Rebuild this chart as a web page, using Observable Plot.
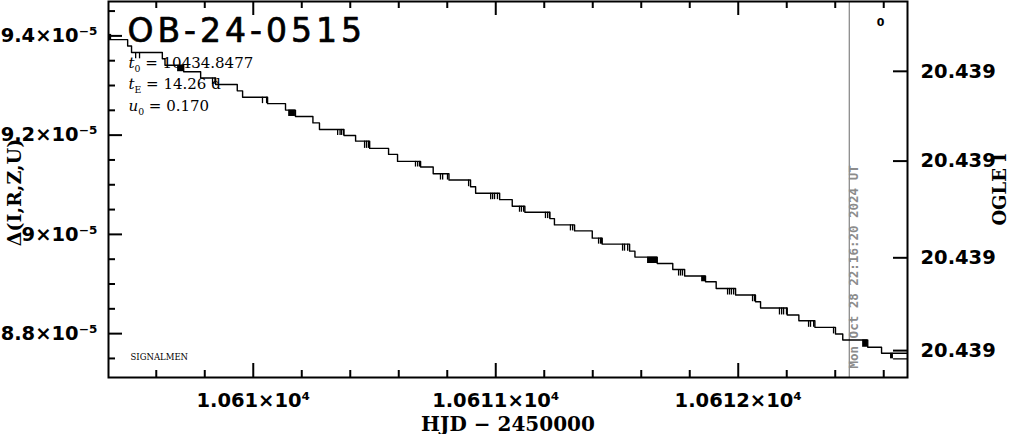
<!DOCTYPE html>
<html><head><meta charset="utf-8">
<script src="https://cdn.jsdelivr.net/npm/d3@7"></script>
<script src="https://cdn.jsdelivr.net/npm/@observablehq/plot@0.6"></script>
<style>body{margin:0;background:#fff;} svg{display:block}</style>
</head><body><div id="chart"></div>
<script>
// ---- text ----
const title = "OB-24-0515";
const paramSymbols = ["t", "t", "u"];
const paramSubscripts = ["0", "E", "0"];
const paramValues = ["10434.8477", "14.26 d", "0.170"];
const xLabel = "HJD − 2450000";
const yLabel = "Δ(I,R,Z,U)";
const y2Label = "OGLE I";
const credit = "SIGNALMEN";
const cornerMark = "0";
const nowHJD = 10612.458;
const nowLabel = "Mon Oct 28 22:16:20 2024 UT";

// ---- scales / ticks ----
const xDomain = [10609.403, 10612.698];
const yDomain = [8.7116, 9.4693]; // Δ in units of 1e-5
const xMajorTicks = [10610, 10611, 10612];
const xTickLabels = ["1.061×10⁴", "1.0611×10⁴", "1.0612×10⁴"];
const xMinorTicks = [10609.6, 10609.8, 10610.2, 10610.4, 10610.6, 10610.8, 10611.2, 10611.4, 10611.6, 10611.8, 10612.2, 10612.4, 10612.6];
const yMajorTicks = [8.8, 9.0, 9.2, 9.4];
const yTickLabels = ["8.8×10⁻⁵", "9×10⁻⁵", "9.2×10⁻⁵", "9.4×10⁻⁵"];
const yMinorTicks = [8.75, 8.85, 8.9, 8.95, 9.05, 9.1, 9.15, 9.25, 9.3, 9.35, 9.45];
const rightTickPositions = [9.3286, 9.1477, 8.9528, 8.7658];
const rightTickLabels = ["20.439", "20.439", "20.439", "20.439"];

// ---- series: stepped light curve ----
const stepHJD = [10609.403, 10609.482, 10609.498, 10609.625, 10609.636, 10609.713, 10609.783, 10609.845, 10609.934, 10609.956,
  10610.059, 10610.133, 10610.174, 10610.246, 10610.273, 10610.374, 10610.422, 10610.480, 10610.558, 10610.595,
  10610.690, 10610.742, 10610.807, 10610.896, 10610.917, 10611.016, 10611.068, 10611.120, 10611.223, 10611.242,
  10611.325, 10611.398, 10611.439, 10611.552, 10611.574, 10611.666, 10611.730, 10611.779, 10611.865, 10611.909,
  10611.989, 10612.071, 10612.092, 10612.202, 10612.250, 10612.316, 10612.401, 10612.431, 10612.534, 10612.591, 10612.711];
const stepDelta = [9.3924, 9.3795, 9.3666, 9.3538, 9.3407, 9.3278, 9.3150, 9.3021, 9.2892, 9.2764,
  9.2635, 9.2505, 9.2376, 9.2247, 9.2115, 9.1994, 9.1879, 9.1733, 9.1612, 9.1471,
  9.1357, 9.1222, 9.1095, 9.0961, 9.0828, 9.0700, 9.0567, 9.0446, 9.0318, 9.0191,
  9.0070, 8.9924, 8.9803, 8.9662, 8.9542, 8.9413, 8.9292, 8.9160, 8.9045, 8.8911,
  8.8778, 8.8643, 8.8517, 8.8376, 8.8261, 8.8127, 8.7994, 8.7873, 8.7725, 8.7604, 8.7604];

// short flickers between adjacent levels
const flickHJD = [10609.515, 10609.531, 10609.832, 10609.842, 10610.038, 10610.055,
  10610.348, 10610.358, 10610.364, 10610.372, 10610.459, 10610.467, 10610.475,
  10610.669, 10610.678, 10610.686, 10610.772, 10610.781, 10610.801, 10610.888,
  10610.979, 10610.987, 10610.995, 10611.007, 10611.098, 10611.106, 10611.115,
  10611.205, 10611.214, 10611.222, 10611.308, 10611.317, 10611.424, 10611.432, 10611.436,
  10611.523, 10611.531, 10611.544, 10611.754, 10611.762, 10611.770,
  10611.956, 10611.964, 10611.972, 10611.981, 10612.059, 10612.067,
  10612.170, 10612.179, 10612.187, 10612.199, 10612.290, 10612.298, 10612.311, 10612.393];
const flickTop = [9.3666, 9.3666, 9.3150, 9.3150, 9.2764, 9.2764,
  9.2115, 9.2115, 9.2115, 9.2115, 9.1879, 9.1879, 9.1879,
  9.1471, 9.1471, 9.1471, 9.1222, 9.1222, 9.1222, 9.1095,
  9.0828, 9.0828, 9.0828, 9.0828, 9.0567, 9.0567, 9.0567,
  9.0446, 9.0446, 9.0446, 9.0191, 9.0191, 8.9924, 8.9924, 8.9924,
  8.9803, 8.9803, 8.9803, 8.9292, 8.9292, 8.9292,
  8.8911, 8.8911, 8.8911, 8.8911, 8.8778, 8.8778,
  8.8517, 8.8517, 8.8517, 8.8517, 8.8261, 8.8261, 8.8261, 8.8127];
const flickBottom = [9.3538, 9.3538, 9.3021, 9.3021, 9.2635, 9.2635,
  9.1994, 9.1994, 9.1994, 9.1994, 9.1733, 9.1733, 9.1733,
  9.1357, 9.1357, 9.1357, 9.1095, 9.1095, 9.1095, 9.0961,
  9.0700, 9.0700, 9.0700, 9.0700, 9.0446, 9.0446, 9.0446,
  9.0318, 9.0318, 9.0318, 9.0070, 9.0070, 8.9803, 8.9803, 8.9803,
  8.9662, 8.9662, 8.9662, 8.9160, 8.9160, 8.9160,
  8.8778, 8.8778, 8.8778, 8.8778, 8.8643, 8.8643,
  8.8376, 8.8376, 8.8376, 8.8376, 8.8127, 8.8127, 8.8127, 8.7994];

// dense (filled) flicker blocks
const blockX1 = [10609.403, 10609.688, 10610.146, 10611.626, 10611.849, 10612.513, 10612.628];
const blockX2 = [10609.416, 10609.713, 10610.174, 10611.667, 10611.865, 10612.533, 10612.640];
const blockTop = [9.4030, 9.3407, 9.2505, 8.9542, 8.9160, 8.7873, 8.7604];
const blockBottom = [9.3924, 9.3278, 9.2376, 8.9413, 8.9045, 8.7725, 8.7492];

// last low level at the right edge
const tailHJD = [10612.640, 10612.711];
const tailDelta = [8.7492, 8.7492];

// ---- build ----
const W = 1011, H = 434, mL = 108, mR = 104, mT = 1, mB = 57;
const frameW = W - mL - mR, frameH = H - mT - mB;
const xPerPx = (xDomain[1] - xDomain[0]) / frameW;
const yPerPx = (yDomain[1] - yDomain[0]) / frameH;
const majorLen = 14, minorLen = 7;

const stepData = stepHJD.map((x, i) => ({x, y: stepDelta[i]}));
const flicks = flickHJD.map((x, i) => ({x, y1: flickTop[i], y2: flickBottom[i]}));
const blocks = blockX1.map((x1, i) => ({x1, x2: blockX2[i], y1: blockTop[i], y2: blockBottom[i]}));
const tail = tailHJD.map((x, i) => ({x, y: tailDelta[i]}));

// inward tick segments (same kind of rule objects as the flickers)
const vTicks = [];
for (const [vals, len] of [[xMajorTicks, majorLen], [xMinorTicks, minorLen]]) {
  for (const v of vals) {
    vTicks.push({x: v, y1: yDomain[0], y2: yDomain[0] + len * yPerPx});
    vTicks.push({x: v, y1: yDomain[1], y2: yDomain[1] - len * yPerPx});
  }
}
const hTicks = [];
for (const v of yMajorTicks) hTicks.push({y: v, x1: xDomain[0], x2: xDomain[0] + majorLen * xPerPx});
for (const v of yMinorTicks) hTicks.push({y: v, x1: xDomain[0], x2: xDomain[0] + minorLen * xPerPx});
for (const v of rightTickPositions) hTicks.push({y: v, x1: xDomain[1], x2: xDomain[1] - majorLen * xPerPx});

const tickFont = {fontFamily: "DejaVu Sans", fontWeight: "bold", fontSize: 19.5, fill: "black"};
const labelFont = {fontFamily: "DejaVu Serif", fontWeight: "bold", fontSize: 19, fill: "black"};

const paramMarks = paramSymbols.map((s, i) =>
  Plot.text([`${s}_${paramSubscripts[i]} = ${paramValues[i]}`], {
    frameAnchor: "top-left", textAnchor: "start", lineAnchor: "top", dx: 20, dy: 55.5 + 21.5 * i,
    fontFamily: "DejaVu Serif", fontSize: 15, fill: "black"
  }));

const chart = Plot.plot({
  width: W, height: H,
  marginLeft: mL, marginRight: mR, marginTop: mT, marginBottom: mB,
  x: {domain: xDomain},
  y: {domain: yDomain},
  marks: [
    Plot.ruleX([nowHJD], {stroke: "#8c8c8c", strokeWidth: 1.3}),
    Plot.text([nowLabel], {x: () => nowHJD, text: d => d, frameAnchor: "bottom", rotate: -90, textAnchor: "start",
      dx: 9, dy: -9, fill: "#8c8c8c", fontFamily: "DejaVu Sans Mono", fontWeight: "bold", fontSize: 12.5}),
    Plot.line(stepData, {x: "x", y: "y", curve: "step-after", stroke: "black", strokeWidth: 1.4, clip: true}),
    Plot.line(tail, {x: "x", y: "y", stroke: "black", strokeWidth: 1.4, clip: true}),
    Plot.ruleX(flicks, {x: "x", y1: "y1", y2: "y2", stroke: "black", strokeWidth: 1.3, clip: true}),
    Plot.rect(blocks, {x1: "x1", x2: "x2", y1: "y1", y2: "y2", fill: "black", clip: true}),
    // inward ticks
    Plot.ruleX(vTicks, {x: "x", y1: "y1", y2: "y2", stroke: "black", strokeWidth: 2, clip: true}),
    Plot.ruleY(hTicks, {y: "y", x1: "x1", x2: "x2", stroke: "black", strokeWidth: 2, clip: true}),
    // tick labels
    Plot.axisX(xMajorTicks, {anchor: "bottom", tickSize: 0, tickPadding: 16, label: null,
      tickFormat: d => xTickLabels[xMajorTicks.indexOf(d)], ...tickFont}),
    Plot.axisY(yMajorTicks, {anchor: "left", tickSize: 0, tickPadding: 11, label: null,
      tickFormat: d => yTickLabels[yMajorTicks.indexOf(d)], ...tickFont}),
    Plot.axisY(rightTickPositions, {anchor: "right", tickSize: 0, tickPadding: 13, label: null,
      tickFormat: d => rightTickLabels[rightTickPositions.indexOf(d)], ...tickFont}),
    Plot.frame({stroke: "black", strokeWidth: 2}),
    // axis titles
    Plot.text([xLabel], {frameAnchor: "bottom", dy: 53, ...labelFont, fontSize: 20}),
    Plot.text([yLabel], {frameAnchor: "left", textAnchor: "middle", dx: -94, dy: 3, rotate: -90, ...labelFont}),
    Plot.text([y2Label], {frameAnchor: "right", textAnchor: "middle", dx: 93, dy: 0, rotate: -90, ...labelFont, fontSize: 18}),
    Plot.text([title], {frameAnchor: "top-left", textAnchor: "start", lineAnchor: "top", dx: 19, dy: 17,
      fontFamily: "DejaVu Sans", fontSize: 33, fill: "black", stroke: "black", strokeWidth: 0.7}),
    ...paramMarks,
    Plot.text([credit], {frameAnchor: "bottom-left", textAnchor: "start", lineAnchor: "bottom", dx: 22, dy: -18,
      fontFamily: "DejaVu Serif", fontSize: 8.5, fill: "black"}),
    Plot.text([cornerMark], {frameAnchor: "top-right", lineAnchor: "top", dx: -23, dy: 17,
      fontFamily: "DejaVu Sans", fontWeight: "bold", fontSize: 11, fill: "black"})
  ]
});

// typographic touches: subscripts and title spacing
d3.select(chart).selectAll("text").each(function () {
  const t = this.textContent;
  if (t === title) d3.select(this).style("letter-spacing", "4px");
  const m = t.match(/^(\w)_(\w)(.*)$/);
  if (m) {
    const sel = d3.select(this);
    sel.text(null);
    sel.append("tspan").attr("font-style", "italic").text(m[1]);
    sel.append("tspan").attr("font-size", "0.62em").attr("dy", "4").text(m[2]);
    sel.append("tspan").attr("dy", "-4").text(m[3]);
  }
});

document.getElementById("chart").appendChild(chart);
</script>
</body></html>
